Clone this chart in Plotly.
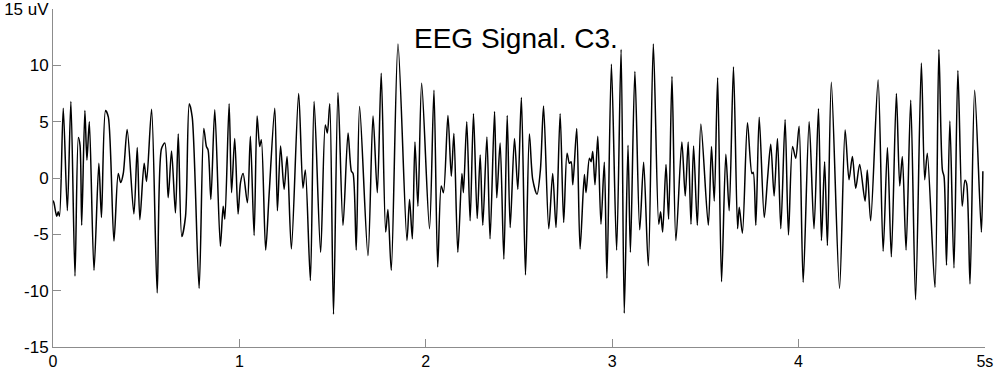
import plotly.graph_objects as go

# EEG signal C3: time (s) and amplitude (uV) (local extrema)
time_s = [
    0.000, 0.005, 0.020, 0.028, 0.035, 0.055, 0.077, 0.096, 0.118, 0.136, 0.145, 0.154,
    0.171, 0.182, 0.195, 0.220, 0.246, 0.260, 0.282, 0.297, 0.327, 0.350, 0.363, 0.377,
    0.398, 0.434, 0.452, 0.466, 0.489, 0.502, 0.529, 0.559, 0.582, 0.600, 0.618, 0.636,
    0.657, 0.672, 0.691, 0.711, 0.731, 0.747, 0.784, 0.809, 0.823, 0.832, 0.847, 0.868,
    0.898, 0.913, 0.922, 0.945, 0.958, 0.975, 0.993, 1.006, 1.020, 1.043, 1.059, 1.079,
    1.095, 1.109, 1.118, 1.141, 1.159, 1.190, 1.204, 1.221, 1.240, 1.256, 1.279, 1.318,
    1.341, 1.354, 1.381, 1.401, 1.436, 1.461, 1.472, 1.485, 1.505, 1.529, 1.556, 1.583,
    1.601, 1.610, 1.627, 1.645, 1.690, 1.717, 1.740, 1.761, 1.785, 1.797, 1.815, 1.851,
    1.899, 1.913, 1.928, 1.942, 1.958, 1.978, 2.020, 2.044, 2.064, 2.083, 2.095, 2.119,
    2.137, 2.151, 2.172, 2.194, 2.202, 2.220, 2.238, 2.256, 2.276, 2.292, 2.306, 2.328,
    2.345, 2.369, 2.381, 2.399, 2.419, 2.437, 2.453, 2.476, 2.494, 2.513, 2.535, 2.556,
    2.574, 2.597, 2.615, 2.632, 2.660, 2.681, 2.699, 2.721, 2.740, 2.758, 2.771, 2.780,
    2.789, 2.810, 2.828, 2.851, 2.860, 2.878, 2.887, 2.896, 2.908, 2.923, 2.940, 2.958,
    2.972, 2.996, 3.024, 3.048, 3.065, 3.085, 3.098, 3.122, 3.148, 3.169, 3.194, 3.221,
    3.250, 3.260, 3.271, 3.289, 3.303, 3.321, 3.342, 3.374, 3.392, 3.408, 3.423, 3.437,
    3.457, 3.476, 3.516, 3.533, 3.548, 3.566, 3.587, 3.610, 3.628, 3.651, 3.673, 3.682,
    3.699, 3.726, 3.750, 3.757, 3.771, 3.789, 3.816, 3.834, 3.851, 3.869, 3.887, 3.905,
    3.928, 3.946, 3.968, 3.985, 4.003, 4.025, 4.057, 4.083, 4.107, 4.123, 4.140, 4.155,
    4.176, 4.220, 4.250, 4.271, 4.289, 4.307, 4.328, 4.357, 4.369, 4.387, 4.427, 4.454,
    4.477, 4.498, 4.525, 4.543, 4.557, 4.577, 4.602, 4.628, 4.659, 4.677, 4.691, 4.732,
    4.753, 4.772, 4.781, 4.794, 4.812, 4.834, 4.855, 4.878, 4.893, 4.902, 4.920, 4.945,
    4.981, 4.989,
]
amplitude_uv = [
    -2.0, -2.2, -3.4, -3.0, -3.4, 6.2, -2.9, 6.8, -8.7, 3.6, 2.9, -4.2,
    6.0, 1.6, 5.0, -8.2, 1.3, -3.5, 6.0, 5.4, -5.6, 0.4, -0.4, 0.4,
    4.3, -3.2, 2.7, -3.7, 1.3, -0.3, 6.1, -10.2, 2.6, 3.1, -1.75, 2.4,
    -3.1, 3.9, -5.2, -3.4, 6.6, 5.4, -9.8, 4.4, 2.8, 2.5, -1.9, 6.05,
    -6.05, -2.5, -3.65, 6.6, -1.3, 3.5, -3.2, -0.4, 0.4, -2.2, 3.7, -5.1,
    5.5, 2.8, 3.4, -6.4, -1.6, 6.2, -2.9, 2.85, -1.0, 1.9, -6.3, 7.5,
    -0.9, 0.7, -9.1, 6.8, -6.6, 4.7, 4.0, 6.6, -12.1, 7.6, -4.2, 4.0,
    0.6, 0.4, -6.4, 6.35, -6.9, 5.5, -1.3, 9.3, -4.8, -2.8, -8.2, 11.9,
    -5.55, -1.9, -5.4, 3.2, -2.5, 8.4, -4.5, 7.8, -7.9, -0.7, -1.3, 5.55,
    0.15, 3.95, -6.6, 0.4, -1.3, 5.0, -3.8, 5.7, -3.6, 2.05, -4.2, 3.65,
    -5.4, 5.9, -1.75, 3.1, -7.2, 5.55, -4.4, 3.5, -1.0, 7.15, -8.6, 3.9,
    -0.15, -1.45, 0.7, 6.4, -4.5, 0.4, -4.4, 5.7, -3.95, 2.2, 1.3, 1.45,
    -0.6, 4.4, -6.3, 0.3, -1.3, 1.75, 1.45, 2.35, -0.6, 3.7, -4.1, 1.4,
    -8.9, 10.1, -6.4, 11.4, -12.0, 2.9, -6.6, 9.45, -4.6, 1.4, -7.8, 11.9,
    -4.1, -3.0, -4.8, 1.2, -3.65, 9.0, -5.55, 3.2, -1.6, 3.2, -4.1, 2.85,
    -4.2, 4.8, -4.2, 2.8, -2.05, 8.9, -9.2, 2.1, -2.9, 9.85, -4.5, -2.6,
    -4.9, 4.9, 0.4, 0.5, -4.2, 5.4, -3.5, 0.0, 3.0, -1.6, 3.5, -4.5,
    5.2, -5.05, 2.8, 1.75, 4.6, -9.25, 5.0, -4.5, 6.15, -5.55, 1.45, -6.0,
    8.5, -9.8, 4.25, -0.15, 1.9, -0.9, 1.2, -2.05, 0.7, -3.8, 8.7, -6.5,
    2.7, -7.0, 7.5, -0.7, 1.9, -6.4, 6.9, -10.8, 10.2, -0.15, 2.2, -9.7,
    11.4, 0.7, 0.1, -7.75, 5.05, -8.0, 9.55, -2.5, -0.2, -0.5, -9.4, 7.8,
    -4.8, 0.6,
]

y_tick_values = [-15, -10, -5, 0, 5, 10, 15]
y_tick_labels = ["-15", "-10", "-5", "0", "5", "10", "15 uV"]
x_tick_values = [0, 1, 2, 3, 4, 5]
x_tick_labels = ["0", "1", "2", "3", "4", "5s"]
title_text = "EEG Signal. C3."

fig = go.Figure()
fig.add_trace(go.Scatter(
    x=time_s, y=amplitude_uv, mode="lines",
    line=dict(color="black", width=1.5, shape="spline", smoothing=0.8),
    showlegend=False, hoverinfo="x+y",
))

axis_gray = "#8c8c8c"
font_family = "Liberation Sans, Arial, sans-serif"

fig.update_layout(
    width=994, height=369,
    margin=dict(l=53, r=9, t=9, b=22, autoexpand=False),
    paper_bgcolor="white", plot_bgcolor="white",
    font=dict(family=font_family, size=17, color="black"),
    xaxis=dict(
        range=[0, 5.0005], tickvals=x_tick_values, ticktext=x_tick_labels,
        showgrid=False, zeroline=False, showline=True, linecolor=axis_gray,
        linewidth=1, ticks="inside", ticklen=8, tickcolor=axis_gray,
        tickfont=dict(size=16, color="black", family=font_family),
        automargin=False, ticklabeloverflow="allow",
    ),
    yaxis=dict(
        range=[-15.002, 15.002], tickvals=y_tick_values, ticktext=y_tick_labels,
        showgrid=False, zeroline=False, showline=True, linecolor=axis_gray,
        linewidth=1, ticks="inside", ticklen=8, tickcolor=axis_gray,
        tickfont=dict(size=17, color="black", family=font_family),
        automargin=False, ticklabeloverflow="allow",
    ),
    annotations=[dict(
        text=title_text, xref="paper", yref="paper", x=0.497, y=0.912,
        xanchor="center", yanchor="middle", showarrow=False,
        font=dict(size=28, color="black", family=font_family),
    )],
)

fig.write_html(
    "out.html",
    config={"displayModeBar": False},
    post_script="document.body.style.margin='0';document.body.style.overflow='hidden';",
)
